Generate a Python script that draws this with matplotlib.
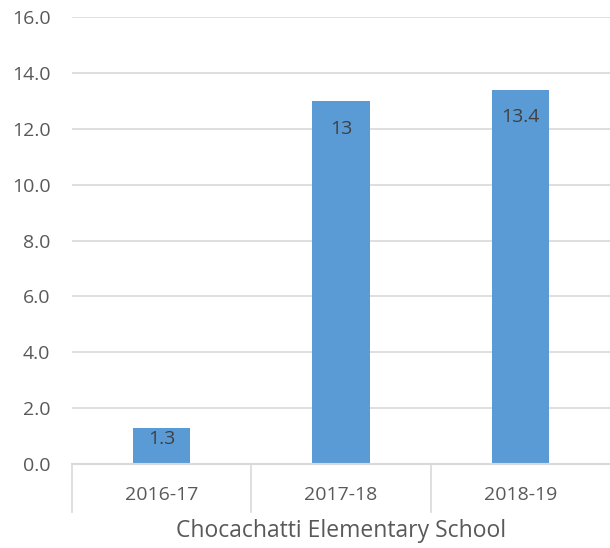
import matplotlib
matplotlib.use("Agg")
import matplotlib.pyplot as plt
from matplotlib.lines import Line2D

categories = ["2016-17", "2017-18", "2018-19"]
values = [1.3, 13.0, 13.4]
value_labels = ["1.3", "13", "13.4"]
group_label = "Chocachatti Elementary School"
yticks = [0, 2, 4, 6, 8, 10, 12, 14, 16]

plt.rcParams['font.family'] = ['Open Sans', 'DejaVu Sans']

W, H = 610, 548
fig = plt.figure(figsize=(W/100, H/100), dpi=100)
left, right = 72/W, 1.0
bottom, top = 1 - 464/H, 1 - 17/H
ax = fig.add_axes([left, bottom, right-left, top-bottom])

x = list(range(len(categories)))
ax.bar(x, values, width=0.32, color="#5B9BD5", zorder=3)
ax.set_xlim(-0.5, len(categories) - 0.5)
ax.set_ylim(0, 16)
ax.set_yticks(yticks)
ax.set_yticklabels([f"{t:.1f}" for t in yticks], fontsize=14, color="#595959")
ax.tick_params(axis='y', length=0, pad=15.5)
ax.set_xticks([])
ax.yaxis.grid(True, color="#d9d9d9", lw=1.2, zorder=0)
for s in ax.spines.values():
    s.set_visible(False)
ax.axhline(0, color="#d9d9d9", lw=1.5, zorder=4, clip_on=False)

# label offsets below bar top (points)
label_offsets = [-8.5, -20, -19.5]
for xi, v, lab, off in zip(x, values, value_labels, label_offsets):
    ax.annotate(lab, (xi, v), xytext=(0, off), textcoords="offset points",
                ha="center", va="center", fontsize=14, color="#404040", zorder=5)

# separators and category labels below axis
trans = ax.get_xaxis_transform()
for b in [-0.5, 0.5, 1.5]:
    ax.add_line(Line2D([b, b], [0, -48/447], transform=trans, color="#d9d9d9",
                       lw=1.2, clip_on=False))
for xi, c in zip(x, categories):
    ax.text(xi, -31/447, c, transform=trans, ha="center", va="center",
            fontsize=14, color="#595959")
ax.text(1, -67/447, group_label, transform=trans, ha="center", va="center",
        fontsize=16.5, color="#595959")

fig.savefig("out.png", dpi=100)
